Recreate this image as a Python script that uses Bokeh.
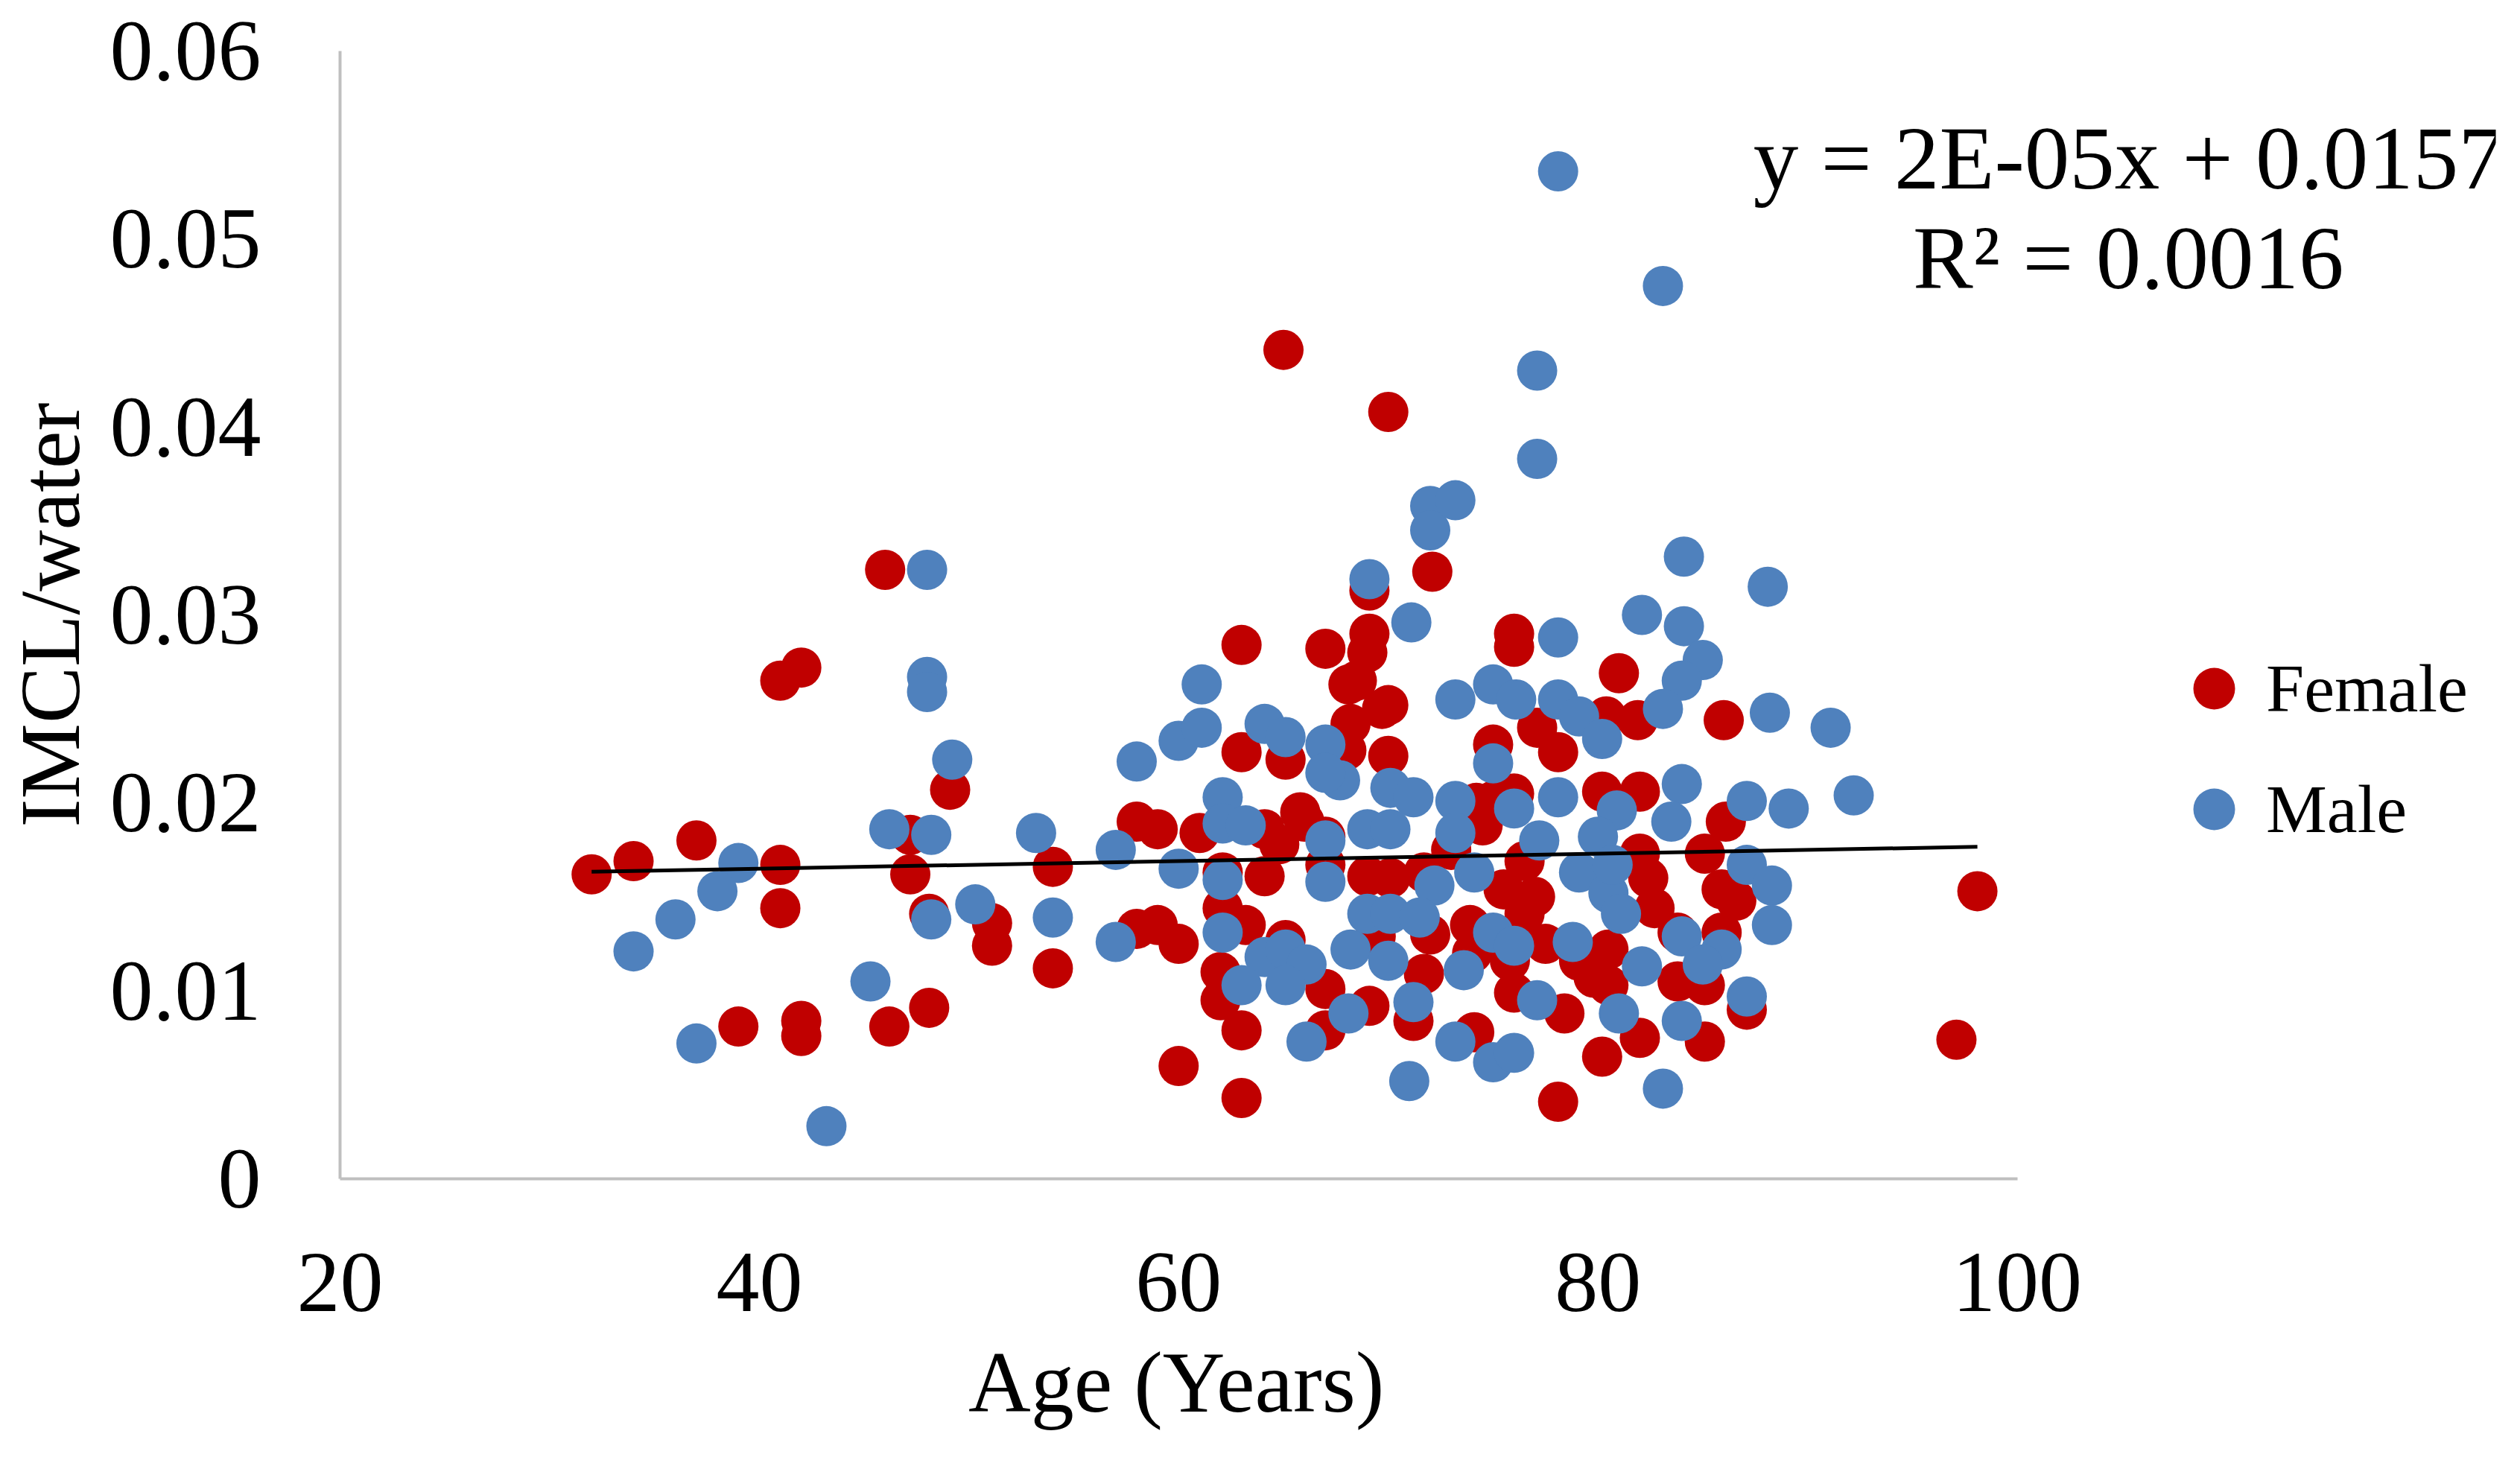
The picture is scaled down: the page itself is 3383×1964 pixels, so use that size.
from bokeh.plotting import figure
from bokeh.models import (Range1d, FixedTicker, CustomJSTickFormatter, Label,
                          Legend, LegendItem, Title)
from bokeh.embed import file_html
from bokeh.resources import INLINE

# ---------------- data ----------------
female_age = [
    32.0, 34.0, 37.0, 41.0, 41.0, 39.0, 42.0, 42.0, 41.0, 42.0, 46.0, 46.2, 48.1,
    47.2, 47.2, 48.1, 49.1, 51.1, 51.1, 54.0, 54.0, 58.0, 59.0, 58.0, 59.0,
    60.0, 60.0, 61.0, 62.1, 62.1, 63.2, 62.0, 62.0, 63.0, 63.0, 63.0, 63.0,
    64.1, 64.1, 65.1, 65.1, 65.8, 67.0, 67.0, 67.0, 67.0, 67.0, 68.1, 68.2,
    69.0, 69.7, 69.0, 69.1, 69.4, 65.0, 70.0, 69.1, 69.1, 72.1, 68.5, 70.0,
    68.0, 70.0, 64.8, 66.0,
    76.0, 77.1, 78.1, 75.0, 75.0, 76.0, 74.2, 76.5, 71.7, 75.5, 76.5, 70.1,
    73.9, 75.8, 71.7, 72.0, 71.2, 74.1, 76.0, 78.4, 79.8, 78.1, 79.1, 76.0,
    73.0, 74.5, 77.0, 74.0, 77.5,
    81.0, 80.4, 81.9, 86.0, 80.2, 82.0, 86.1, 82.0, 85.1, 85.9, 86.6, 82.7,
    82.4, 80.5, 80.5, 83.8, 85.9, 83.8, 85.1, 87.1, 82.0, 85.1, 80.2,
    98.1, 97.1,
]
female_imcl = [
    0.0162, 0.0169, 0.0180, 0.0167, 0.0144, 0.0081, 0.0084, 0.0076, 0.0265, 0.0272, 0.0324, 0.0081, 0.0091,
    0.0183, 0.0162, 0.0141, 0.0207, 0.0136, 0.0124, 0.0166, 0.0112, 0.0190, 0.0186, 0.0133, 0.0135,
    0.0125, 0.0060, 0.0184, 0.0163, 0.0144, 0.0135, 0.0110, 0.0095, 0.0079, 0.0043, 0.0284, 0.0227,
    0.0186, 0.0161, 0.0223, 0.0127, 0.0195, 0.0282, 0.0182, 0.0167, 0.0101, 0.0079, 0.0263, 0.0242,
    0.0280, 0.0250, 0.0161, 0.0092, 0.0129, 0.0441, 0.0408, 0.0313, 0.0290, 0.0323, 0.0265, 0.0252,
    0.0228, 0.0225, 0.0178, 0.0190,
    0.0283, 0.0240, 0.0227, 0.0231, 0.0201, 0.0205, 0.0200, 0.0169, 0.0163, 0.0154, 0.0141, 0.0160,
    0.0135, 0.0116, 0.0109, 0.0130, 0.0084, 0.0078, 0.0099, 0.0088, 0.0107, 0.0041, 0.0116, 0.0290,
    0.0175, 0.0188, 0.0150, 0.0120, 0.0125,
    0.0269, 0.0246, 0.0244, 0.0244, 0.0206, 0.0206, 0.0190, 0.0173, 0.0173, 0.0154, 0.0148, 0.0144,
    0.0160, 0.0122, 0.0103, 0.0131, 0.0131, 0.0105, 0.0103, 0.0090, 0.0075, 0.0073, 0.0065,
    0.0153, 0.0074,
]

male_age = [
    39.0, 38.0, 36.0, 34.0, 37.0, 43.2, 45.3, 46.2, 48.2, 48.2, 50.3, 49.2, 48.0, 48.0, 48.0,
    53.2, 54.0, 57.0, 57.0, 58.0, 60.0, 60.0, 61.1, 61.1,
    64.1, 65.1, 67.0, 67.7, 67.0, 62.1, 62.1, 63.2, 67.0, 69.0, 62.1, 67.0, 62.1, 64.1, 65.1,
    66.1, 63.0, 65.1, 69.0, 68.2, 70.0, 68.1, 66.1,
    69.1, 71.1, 72.0, 72.0, 73.2, 78.1, 77.1, 77.1, 83.1, 84.1, 82.1, 84.1, 88.1, 78.1, 85.0,
    73.2, 75.0, 76.1, 78.1, 79.1, 80.2, 75.0, 70.1, 71.2, 73.2, 76.0, 78.1, 80.9, 70.1, 73.2,
    77.2, 80.0, 74.1, 79.1, 80.5, 72.2, 70.1, 71.5, 75.0, 76.0, 73.6, 78.8, 71.2, 77.1, 81.0,
    73.2, 75.0, 76.0, 71.0,
    84.0, 83.1, 88.2, 91.1, 84.0, 83.5, 87.1, 89.1, 92.2, 80.7, 87.1, 88.3, 81.1, 88.3, 84.0,
    85.9, 82.1, 85.0, 87.1, 84.0, 83.1,
]
male_imcl = [
    0.0168, 0.0153, 0.0138, 0.0121, 0.0072, 0.0028, 0.0105, 0.0186, 0.0183, 0.0138, 0.0146, 0.0223, 0.0324, 0.0267, 0.0259,
    0.0184, 0.0139, 0.0175, 0.0126, 0.0222, 0.0233, 0.0165, 0.0240, 0.0263,
    0.0242, 0.0235, 0.0231, 0.0212, 0.0216, 0.0203, 0.0189, 0.0188, 0.0180, 0.0186, 0.0159, 0.0158, 0.0131, 0.0118, 0.0122,
    0.0114, 0.0103, 0.0103, 0.0141, 0.0122, 0.0116, 0.0088, 0.0073,
    0.0319, 0.0296, 0.0358, 0.0345, 0.0361, 0.0536, 0.0430, 0.0383, 0.0475, 0.0331, 0.0300, 0.0294, 0.0315, 0.0288, 0.0276,
    0.0255, 0.0263, 0.0255, 0.0255, 0.0246, 0.0234, 0.0221, 0.0208, 0.0203, 0.0201, 0.0197, 0.0203, 0.0196, 0.0186, 0.0184,
    0.0180, 0.0182, 0.0163, 0.0163, 0.0152, 0.0156, 0.0141, 0.0139, 0.0131, 0.0124, 0.0111, 0.0126, 0.0094, 0.0095, 0.0088,
    0.0073, 0.0062, 0.0067, 0.0052,
    0.0265, 0.0250, 0.0248, 0.0240, 0.0210, 0.0190, 0.0201, 0.0197, 0.0204, 0.0167, 0.0167, 0.0156, 0.0141, 0.0135, 0.0129,
    0.0122, 0.0113, 0.0114, 0.0097, 0.0084, 0.0048,
]

x_ticks = [20, 40, 60, 80, 100]
y_ticks = [0, 0.01, 0.02, 0.03, 0.04, 0.05, 0.06]
trend_slope = 2e-05
trend_intercept = 0.0157
equation_lines = ["y = 2E-05x + 0.0157", "R\u00b2 = 0.0016"]
x_title = "Age (Years)"
y_title = "IMCL/water"

# ---------------- layout ----------------
W, H = 3360, 1946
left, right, top, bottom = 449, 10, 68, 364
frame_w = W - left - right
px_per_year = 2257 / 80.0
x_end = 20 + frame_w / px_per_year

RED = "#C00000"
BLUE = "#4F81BD"
FONT = "Liberation Serif"
TITLE_PX = 116

p = figure(width=W, height=H, output_backend="svg", toolbar_location=None,
           x_range=Range1d(20, x_end), y_range=Range1d(0, 0.06),
           min_border_left=left, min_border_right=right,
           min_border_top=top, min_border_bottom=bottom)
p.outline_line_color = None
p.grid.visible = False
p.background_fill_color = "white"
p.border_fill_color = "white"

# axes
xa = p.xaxis[0]
ya = p.yaxis[0]
xa.bounds = (20, 100)
xa.ticker = FixedTicker(ticks=x_ticks)
ya.ticker = FixedTicker(ticks=y_ticks)
ya.formatter = CustomJSTickFormatter(code="return tick == 0 ? '0' : tick.toFixed(2);")
for ax in (xa, ya):
    ax.axis_line_color = "#BFBFBF"
    ax.axis_line_width = 4
    ax.major_tick_line_color = None
    ax.minor_tick_line_color = None
    ax.major_label_text_font = FONT
    ax.major_label_text_font_size = "116px"
    ax.major_label_text_color = "black"
xa.major_label_standoff = 94
ya.major_label_standoff = 100
ya.axis_label = y_title
ya.axis_label_text_font = FONT
ya.axis_label_text_font_size = "114px"
ya.axis_label_text_font_style = "normal"
ya.axis_label_text_color = "black"
ya.axis_label_standoff = 14

# x-axis title, centred under the 20..100 span of the axis
title_w = 4.914 * TITLE_PX
center_px = (60 - 20) * px_per_year
p.add_layout(Title(text=x_title, align="left", offset=center_px - title_w / 2,
                   text_font=FONT, text_font_size=f"{TITLE_PX}px",
                   text_font_style="normal", text_color="black", standoff=54),
             "below")

# data
r_f = p.scatter(female_age, female_imcl, size=54, color=RED, line_color=None)
r_m = p.scatter(male_age, male_imcl, size=54, color=BLUE, line_color=None)

# trend line from the printed equation, over the data's age span
all_ages = female_age + male_age
tx = [min(all_ages), max(all_ages)]
ty = [trend_slope * a + trend_intercept for a in tx]
p.line(tx, ty, line_color="black", line_width=5)

# equation
for txt, yy in zip(equation_lines, [0.0543, 0.0490]):
    p.add_layout(Label(x=105.3, y=yy, text=txt, text_font=FONT,
                       text_font_size="121px", text_align="center",
                       text_baseline="middle", text_color="black"))

legend = Legend(items=[LegendItem(label="Female", renderers=[r_f]),
                       LegendItem(label="Male", renderers=[r_m])],
                location=(2446, 426))
legend.glyph_width = 140
legend.glyph_height = 140
legend.spacing = 22
legend.label_standoff = 0
legend.padding = 0
legend.margin = 0
legend.border_line_color = None
legend.background_fill_alpha = 0
legend.label_text_font = FONT
legend.label_text_font_size = "92px"
legend.label_text_color = "black"
p.add_layout(legend, "center")

open("out.html", "w").write(file_html(p, INLINE))
